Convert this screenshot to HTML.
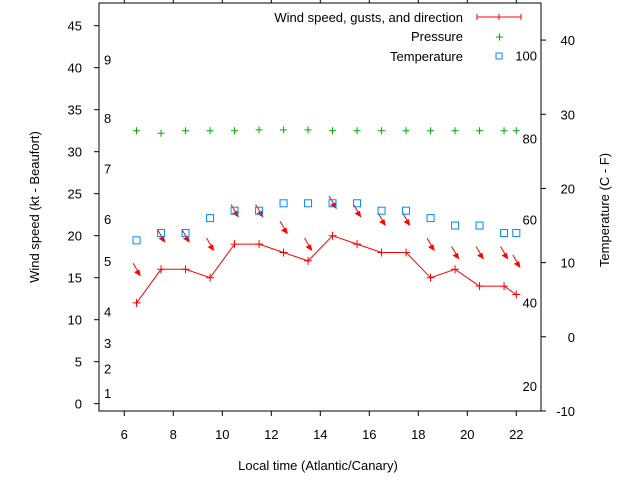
<!DOCTYPE html>
<html><head><meta charset="utf-8"><style>
body{margin:0;background:#fff}
svg{display:block;font-family:"Liberation Sans",sans-serif;font-size:13px}
</style></head><body>
<svg id="c" width="640" height="480">
<rect width="640" height="480" fill="#fff"/>
<g id="axes"></g><g id="marks"></g>
</svg>
<script>
const hours=[6.5,7.5,8.5,9.5,10.5,11.5,12.5,13.5,14.5,15.5,16.5,17.5,18.5,19.5,20.5,21.5,22];
const windKt=[12,16,16,15,19,19,18,17,20,19,18,18,15,16,14,14,13];
const gustKt=[16,20,20,19,23,23,21,19,24,23,22,22,19,18,18,18,17];
const pressure=[32.5,32.2,32.5,32.5,32.5,32.6,32.6,32.6,32.5,32.5,32.5,32.5,32.5,32.5,32.5,32.5,32.5];
const tempC=[13,14,14,16,17,17,18,18,18,18,17,17,16,15,15,14,14];
const xTicks=[6,8,10,12,14,16,18,20,22];
const yTicks=[0,5,10,15,20,25,30,35,40,45];
const y2Ticks=[-10,0,10,20,30,40];
const beaufort=[[1,1.3],[2,4.2],[3,7.2],[4,11],[5,17],[6,22],[7,28],[8,34],[9,41]];
const fahr=[[20,-6.6],[40,4.6],[60,15.8],[80,26.7],[100,37.9]];

const L=99,R=541,T=3,B=411;
const X=v=>124.3+(v-6)*24.5;
const Y=v=>403.7-v*8.4;
const Y2=v=>336.8-v*7.418;
const NS='http://www.w3.org/2000/svg';
const ax=document.getElementById('axes'),mk=document.getElementById('marks');
function mkEl(tag,at,parent,txt){const e=document.createElementNS(NS,tag);for(const k in at)e.setAttribute(k,at[k]);if(txt!==undefined)e.textContent=txt;parent.appendChild(e);return e;}
let e;
e=mkEl('rect',{x:L,y:T,width:R-L,height:B-T,fill:'none',stroke:'#000'},ax);


xTicks.forEach(v=>{
 e=mkEl('path',{d:`M${X(v)} ${B}v5M${X(v)} ${T}v-5`,stroke:'#000'},ax);
 
 
 e=mkEl('text',{x:X(v),y:439,'text-anchor':'middle'},ax,v);
 
 
});
yTicks.forEach(v=>{
 e=mkEl('path',{d:`M${L} ${Y(v)}h-5`,stroke:'#000'},ax);
 
 
 e=mkEl('text',{x:82,y:Y(v)+5,'text-anchor':'end'},ax,v);
 
 
});
y2Ticks.forEach(v=>{
 e=mkEl('path',{d:`M${R} ${Y2(v)}h5`,stroke:'#000'},ax);
 
 
 e=mkEl('text',{x:575,y:Y2(v)+5,'text-anchor':'end'},ax,v);
 
 
});
beaufort.forEach(b=>{
 e=mkEl('text',{x:104,y:Y(b[1])+5},ax,b[0]);
 
 
});
fahr.forEach(f=>{
 e=mkEl('text',{x:537,y:Y2(f[1])+5,'text-anchor':'end'},ax,f[0]);
 
 
});
e=mkEl('text',{x:318,y:470,'text-anchor':'middle'},ax,'Local time (Atlantic/Canary)');


e=mkEl('text',{x:0,y:0,'text-anchor':'middle',transform:'translate(39,207) rotate(-90)'},ax,'Wind speed (kt - Beaufort)');


e=mkEl('text',{x:0,y:0,'text-anchor':'middle',transform:'translate(609,210) rotate(-90)'},ax,'Temperature (C - F)');


e=mkEl('text',{x:463,y:22,'text-anchor':'end'},ax,'Wind speed, gusts, and direction');


e=mkEl('path',{d:'M477 17h44M477 14v6M499 14v6M521 14v6',stroke:'#f00'},ax);


e=mkEl('text',{x:463,y:41,'text-anchor':'end'},ax,'Pressure');


e=mkEl('path',{d:'M496 37h7M499.5 33.5v7',stroke:'#0a0'},ax);


e=mkEl('text',{x:463,y:61,'text-anchor':'end'},ax,'Temperature');


e=mkEl('rect',{x:496,y:53,width:6,height:6,fill:'none',stroke:'#08f'},ax);


e=mkEl('polyline',{points:hours.map((h,i)=>X(h)+','+Y(windKt[i])).join(' '),fill:'none',stroke:'#f00'},mk);


hours.forEach((h,i)=>{
 const x=X(h),y=Y(windKt[i]);
 e=mkEl('path',{d:`M${x-4} ${y}h8M${x} ${y-4}v8`,stroke:'#f00'},mk);
 
 
 const gx=X(h),gy=Y(gustKt[i]);
 e=mkEl('path',{d:`M${gx-3.5} ${gy-6}L${gx+2.5} ${gy+4}`,stroke:'#f00'},mk);
 
 
 e=mkEl('path',{d:`M${gx+3.5} ${gy+6}l-5-3l4-2z`,fill:'#f00',stroke:'#f00'},mk);
 
 
 const px=X(h),py=Y(pressure[i]);
 e=mkEl('path',{d:`M${px-3.5} ${py}h7M${px} ${py-3.5}v7`,stroke:'#0a0'},mk);
 
 
 const ty=Y2(tempC[i]);
 e=mkEl('rect',{x:X(h)-3.5,y:ty-3.5,width:7,height:7,fill:'none',stroke:'#08f'},mk);
 
 
});
</script>
</body></html>
